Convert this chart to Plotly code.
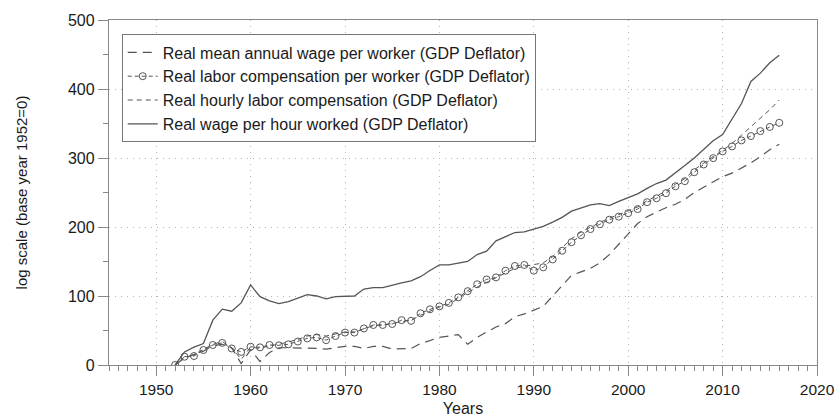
import plotly.graph_objects as go

years = list(range(1952, 2017))

wage_annual = [0, 10, 15, 20, 28, 30, 25, 2, 22, 5, 18, 25, 25, 25, 25, 24, 23, 25, 27, 27,
               24, 27, 27, 23, 23, 24, 31, 36, 40, 42, 44, 30, 40, 48, 55, 60, 70, 74, 80, 85,
               100, 115, 130, 135, 140, 148, 160, 175, 190, 205, 215, 222, 228, 233, 240, 250, 258, 265, 273, 278,
               285, 293, 302, 312, 320]

comp_worker = [0, 12, 13, 21.7, 29, 32, 24, 19, 26.5, 25.6, 29, 28.5, 30, 34, 38.6, 40, 36, 42, 47, 47,
               53, 58, 58, 59.4, 65, 64, 75, 80.7, 85, 90, 98, 107, 117, 124, 127, 136.7, 143.5, 145, 136.7, 141.6,
               153, 165.6, 178, 188, 197, 204, 210.6, 215, 220, 226, 236, 241.6, 249, 259, 266.4, 279.4, 290.6, 299.8, 309.6, 316.8,
               325.5, 331.8, 339, 345, 351]

comp_hourly = [0, 12, 15, 22, 30, 34, 25, 8, 26, 24, 28, 30, 33, 37, 42, 44, 42, 45, 48, 48,
               53, 57, 58, 60, 63, 65, 72, 78, 84, 88, 97, 105, 113, 120, 126, 133, 140, 143, 145, 148,
               157, 170, 183, 193, 200, 207, 213, 218, 223, 229, 238, 245, 252, 262, 270, 283, 293, 302, 311, 321,
               333, 345, 357, 370, 384]

wage_hour = [0, 19, 26, 31, 65, 81, 78, 90, 116, 99, 93, 89, 92, 97, 102, 100, 96, 99, 100, 100,
             110, 112, 112, 116, 119, 122, 128, 137, 145, 145, 148, 150, 160, 165, 180, 186, 192, 193, 197, 201,
             207, 214, 223, 228, 232, 234, 231, 237, 242, 248, 256, 263, 268, 278, 289, 300, 312, 325, 334, 357,
             379, 411, 423, 438, 449]

names = [
    "Real mean annual wage per worker (GDP Deflator)",
    "Real labor compensation per worker (GDP Deflator)",
    "Real hourly labor compensation (GDP Deflator)",
    "Real wage per hour worked (GDP Deflator)",
]

LC = "#555555"
fig = go.Figure()
fig.add_trace(go.Scatter(x=years, y=wage_annual, name=names[0], mode="lines",
                         line=dict(color=LC, width=1.2, dash="9px,6px")))
fig.add_trace(go.Scatter(x=years, y=comp_worker, name=names[1], mode="lines+markers",
                         line=dict(color=LC, width=1, dash="4px,3px"),
                         marker=dict(symbol="circle-open", size=7, color=LC, line=dict(width=1))))
fig.add_trace(go.Scatter(x=years, y=comp_hourly, name=names[2], mode="lines",
                         line=dict(color=LC, width=1, dash="5px,4px")))
fig.add_trace(go.Scatter(x=years, y=wage_hour, name=names[3], mode="lines",
                         line=dict(color=LC, width=1.3)))

font = "Liberation Sans, Arial, Helvetica, sans-serif"
GRID = dict(showgrid=True, gridcolor="#b4b4b4", griddash="1px,5px", gridwidth=1)
fig.update_layout(
    width=837, height=420,
    margin=dict(l=109, r=20, t=20, b=55, autoexpand=False),
    paper_bgcolor="white", plot_bgcolor="white",
    font=dict(family=font, size=15, color="#1a1a1a"),
    showlegend=True,
    legend=dict(x=0.018, y=0.958, xanchor="left", yanchor="top",
                bordercolor="#777777", borderwidth=1, bgcolor="white",
                font=dict(size=16), tracegroupgap=0, itemwidth=30),
    xaxis=dict(range=[1945, 2020], tickmode="linear", tick0=1950, dtick=10, automargin=False,
               ticks="outside", ticklen=10, tickcolor="#888888", tickwidth=1,
               showline=True, linecolor="#888888", linewidth=1.2, mirror=True,
               zeroline=False, tickfont=dict(size=15.5), **GRID,
               minor=dict(dtick=1, tick0=1945, ticks="outside", ticklen=5, tickcolor="#888888", showgrid=False),
               title=dict(text="Years", standoff=6, font=dict(size=16))),
    yaxis=dict(range=[0, 500], tickmode="linear", tick0=0, dtick=100, automargin=False,
               ticks="outside", ticklen=10, tickcolor="#888888", tickwidth=1,
               showline=True, linecolor="#888888", linewidth=1.2, mirror=True,
               zeroline=False, tickfont=dict(size=16), **GRID,
               minor=dict(dtick=50, ticks="outside", ticklen=5, tickcolor="#888888", showgrid=False),
               title=dict(text="log scale (base year 1952=0)", standoff=36, font=dict(size=15))),
)

fig.write_html("out.html", config={"displayModeBar": False, "staticPlot": True},
               post_script="document.body.style.margin='0';document.body.style.overflow='hidden';")
